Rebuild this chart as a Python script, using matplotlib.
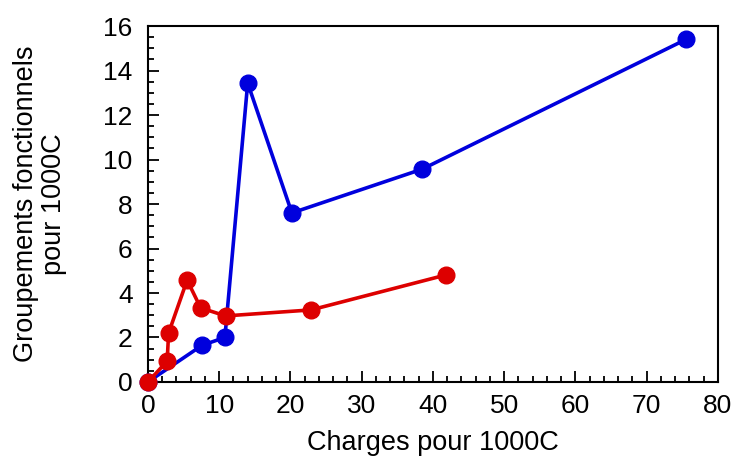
import matplotlib
matplotlib.use('Agg')
import matplotlib.pyplot as plt
from matplotlib.ticker import MultipleLocator

plt.rcParams['font.family'] = ['Liberation Sans', 'DejaVu Sans']

# blue series
blue_x = [0, 7.6, 10.8, 14.0, 20.2, 38.5, 75.5]
blue_y = [0, 1.65, 2.0, 13.44, 7.6, 9.57, 15.4]

# red series
red_x = [0, 2.7, 2.9, 5.5, 7.4, 10.9, 22.9, 41.8]
red_y = [0, 0.94, 2.2, 4.58, 3.33, 2.97, 3.24, 4.81]

x_ticks = [0, 10, 20, 30, 40, 50, 60, 70, 80]
y_ticks = [0, 2, 4, 6, 8, 10, 12, 14, 16]

fig = plt.figure(figsize=(7.36, 4.58), dpi=100)
ax = fig.add_axes([0.201, 0.166, 0.7745, 0.777])

ax.plot(blue_x, blue_y, color='#0000dd', linewidth=2.6, marker='o',
        markersize=12, clip_on=False, zorder=3)
ax.plot(red_x, red_y, color='#dd0000', linewidth=2.6, marker='o',
        markersize=12, clip_on=False, zorder=4)

ax.set_xlim(0, 80)
ax.set_ylim(0, 16)
ax.set_xticks(x_ticks)
ax.set_yticks(y_ticks)
ax.xaxis.set_minor_locator(MultipleLocator(2))
ax.yaxis.set_minor_locator(MultipleLocator(0.5))
ax.tick_params(which='both', direction='in', top=False, right=False,
               labelsize=19, colors='black')
ax.tick_params(which='major', length=8, width=1.3)
ax.tick_params(axis='x', which='major', pad=9)
ax.tick_params(axis='y', which='major', pad=11)
ax.tick_params(which='minor', length=4, width=1.3)
for sp in ax.spines.values():
    sp.set_linewidth(1.5)

ax.set_xlabel('Charges pour 1000C', fontsize=19.5, labelpad=8)
ax.set_ylabel('Groupements fonctionnels\npour 1000C', fontsize=19.5,
              labelpad=26, linespacing=1.12)

fig.savefig('out.png', dpi=100)
